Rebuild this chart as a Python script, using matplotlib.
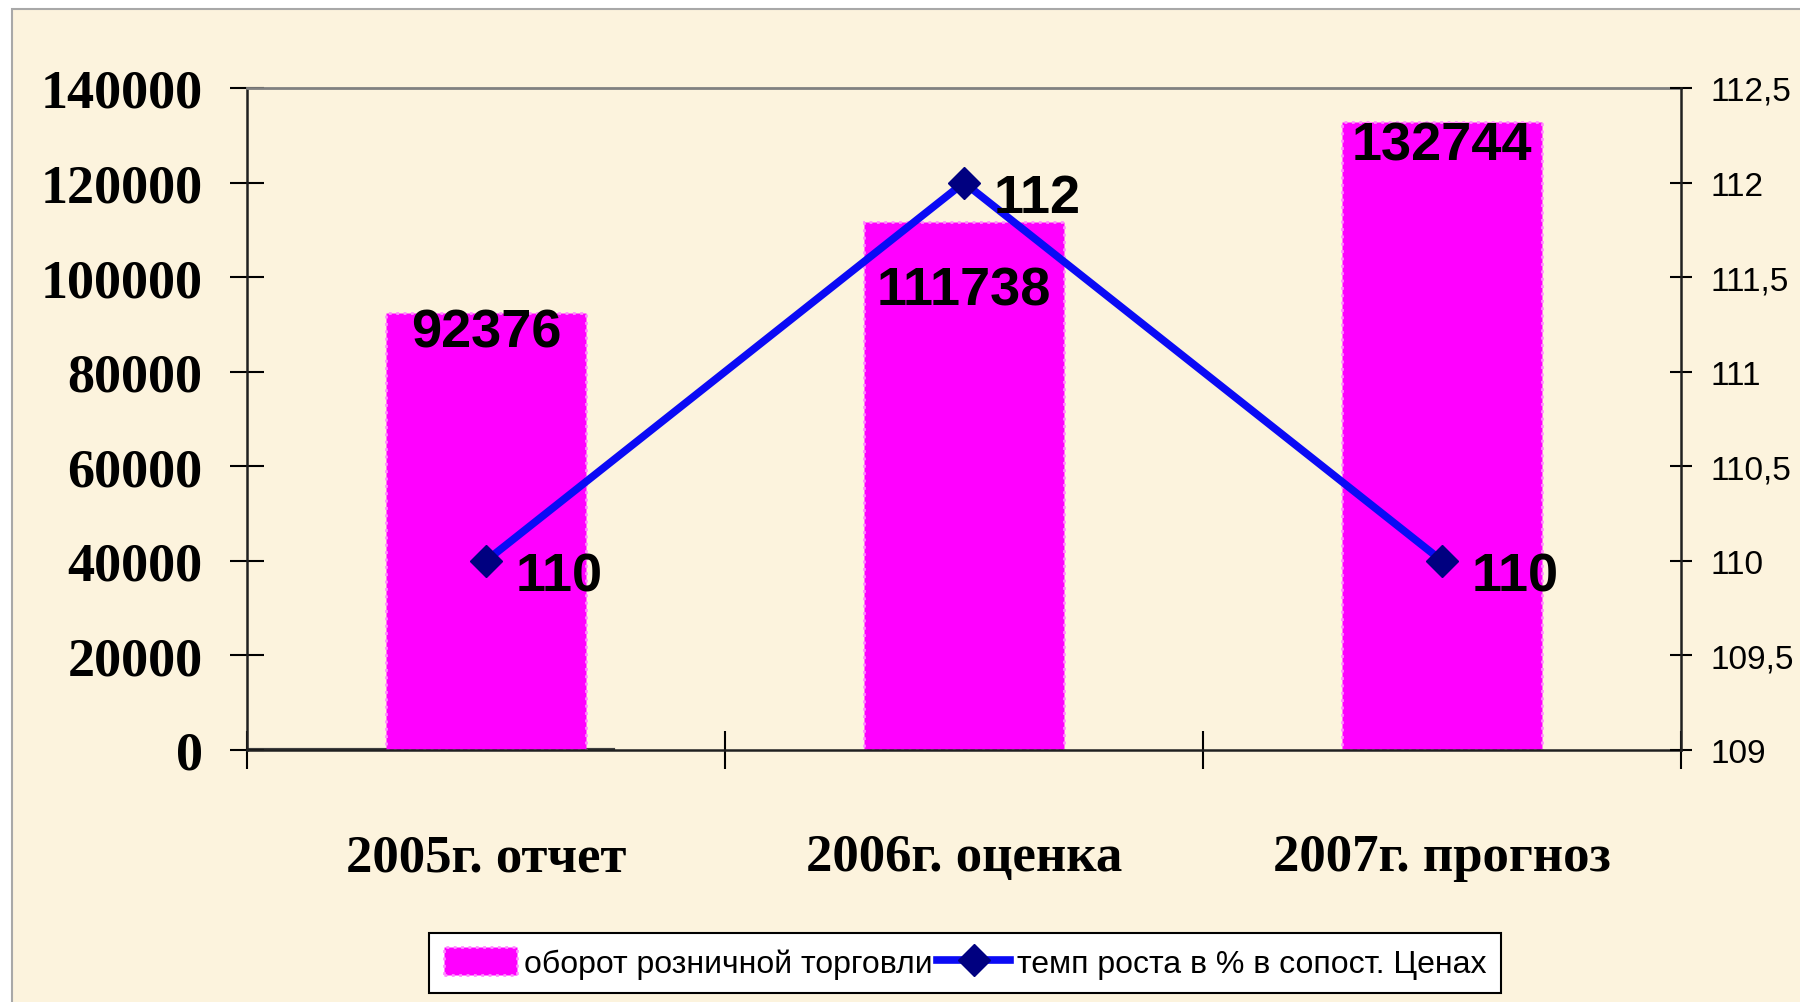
import matplotlib
matplotlib.use('Agg')
import matplotlib.pyplot as plt
from matplotlib.patches import Rectangle
from matplotlib.ticker import FuncFormatter
import numpy as np

# data
categories = ['2005г. отчет', '2006г. оценка', '2007г. прогноз']
turnover = [92376, 111738, 132744]          # оборот розничной торговли
growth = [110, 112, 110]                    # темп роста в %
turnover_name = 'оборот розничной торговли'
growth_name = 'темп роста в % в сопост. Ценах'

bar_label_dy = [-24, -60, -27]   # label offsets (pt), below bar top
bg_color = '#FCF3DD'
sans = ['Liberation Sans', 'DejaVu Sans']
serif = ['Liberation Serif', 'DejaVu Serif']

fig = plt.figure(figsize=(18, 10.03), dpi=100)
fig.patch.set_facecolor('white')
fig.patches.append(Rectangle((12 / 1800, -0.01), 1.0, 1 - 10 / 1003 + 0.01,
                             transform=fig.transFigure, facecolor=bg_color,
                             edgecolor='#A8A8A8', lw=1.5, zorder=-10))

ax = fig.add_axes([247 / 1800, 1 - 751 / 1003, 1434 / 1800, 662 / 1003])
ax.set_facecolor('none')
x = np.arange(len(categories))

bars = ax.bar(x, turnover, width=0.42, color='#FF00FF', edgecolor='#FF8CFF',
              linewidth=2, linestyle=':', zorder=2)
ax.axhline(0, xmax=0.255, color='#404040', lw=3, zorder=1)
ax.set_xlim(-0.5, len(categories) - 0.5)
ax.set_ylim(0, 140000)
ax.set_yticks(np.arange(0, 140001, 20000))
ax.set_yticklabels([str(v) for v in range(0, 140001, 20000)],
                   family=serif, fontweight='bold', fontsize=39)
ax.tick_params(axis='y', direction='inout', length=24, width=1.5, pad=20)

ax.set_xticks(np.arange(-0.5, len(categories), 1.0))
ax.set_xticklabels([])
ax.tick_params(axis='x', which='major', direction='inout', length=28, width=1.5)
ax.set_xticks(x, minor=True)
ax.set_xticklabels(categories, minor=True, family=serif, fontweight='bold', fontsize=38)
ax.tick_params(axis='x', which='minor', length=0, pad=60)

for s in ['left', 'bottom']:
    ax.spines[s].set_linewidth(1.8)
    ax.spines[s].set_color('#202020')
ax.spines['top'].set_color('#808080')
ax.spines['top'].set_linewidth(2)
ax.spines['right'].set_visible(False)

for i, v in enumerate(turnover):
    ax.annotate(str(v), (x[i], v), xytext=(0, bar_label_dy[i]), textcoords='offset points',
                ha='center', va='baseline', fontsize=39, fontweight='bold',
                family=sans, zorder=3)

ax2 = ax.twinx()
ax2.set_ylim(109, 112.5)
ax2.set_yticks(np.arange(109, 112.51, 0.5))
ax2.yaxis.set_major_formatter(FuncFormatter(lambda v, p: ('%g' % v).replace('.', ',')))
ax2.tick_params(axis='y', direction='inout', length=16, width=1.5, pad=13,
                labelsize=24)
for lab in ax2.get_yticklabels():
    lab.set_family(sans)
for s in ['left', 'top', 'bottom']:
    ax2.spines[s].set_visible(False)
ax2.spines['right'].set_linewidth(1.8)
ax2.spines['right'].set_color('#202020')

line, = ax2.plot(x, growth, color='#0A0AF5', lw=5.5, marker='D', ms=16,
                 mfc='#000080', mec='#000080', zorder=4)
for i, v in enumerate(growth):
    ax2.annotate(str(v), (x[i], v), xytext=(21, -21), textcoords='offset points',
                 ha='left', va='baseline', fontsize=39, fontweight='bold',
                 family=sans, zorder=5)

leg = fig.legend([bars, line], [turnover_name, growth_name], loc='center',
                 bbox_to_anchor=(965 / 1800, 1 - 964 / 1003), ncol=2,
                 frameon=True, fancybox=False, edgecolor='black', facecolor='white',
                 framealpha=1, handlelength=2.3, handleheight=1.0, handletextpad=0.2,
                 columnspacing=0.15, borderpad=0.45, borderaxespad=0,
                 prop={'family': sans, 'size': 23})
leg.get_frame().set_linewidth(1.5)

fig.savefig('out.png', dpi=100, facecolor=fig.get_facecolor())
